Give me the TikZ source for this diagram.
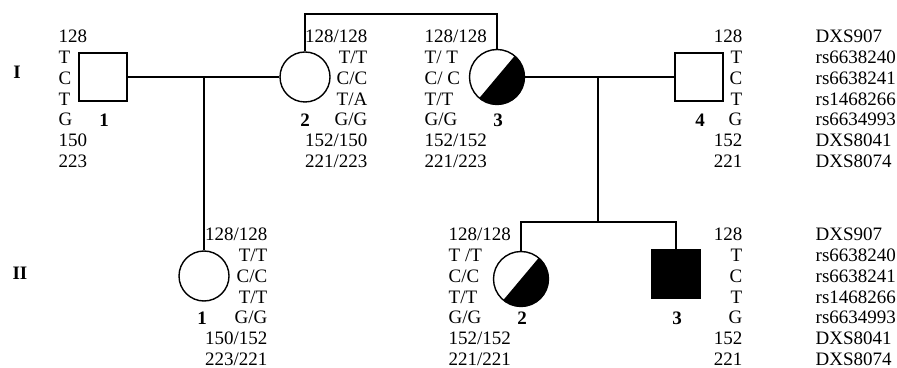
\documentclass[tikz,border=0pt]{standalone}
\usepackage{fontspec}
\setmainfont{Liberation Serif}
\tikzset{
    male/.style={
        rectangle,
        draw,
        line width=0.7pt,
        minimum size=24pt,
        inner sep=0
    },
    female/.style={
        circle,
        draw,
        line width=0.7pt,
        minimum size=25pt,
        inner sep=0
    },
    carrier/.style={
        female,
        minimum size=27.5pt,
        path picture={
            \fill (path picture bounding box.center) ++(50:20pt)
                -- ++(230:40pt) -- ++(-40:20pt) -- ++(50:40pt) -- cycle;
        }
    },
    affected/.style={
        male,
        fill=black
    },
    gtext/.style={
        inner sep=0,
        font=\fontsize{9.5}{11}\selectfont
    },
    idlabel/.style={
        inner sep=0,
        font=\bfseries\fontsize{9.5}{11}\selectfont
    }
}

\begin{document}
\begin{tikzpicture}[x=0.5pt, y=-0.5pt, line width=0.7pt]
    \useasboundingbox (0,0) rectangle (897,368);

    % generation labels
    \node[idlabel, anchor=base] (genI) at (17,79) {I};
    \node[idlabel, anchor=base] (genII) at (20,279) {II};

    % generation I
    \node[male] (i1) at (103,77) {};
    \node[female] (i2) at (305,77) {};
    \node[carrier] (i3) at (497,77) {};
    \node[male] (i4) at (699,77) {};

    \node[idlabel, anchor=base] (l-i1) at (104,127) {1};
    \node[idlabel, anchor=base] (l-i2) at (305,127) {2};
    \node[idlabel, anchor=base] (l-i3) at (498,127) {3};
    \node[idlabel, anchor=base] (l-i4) at (700,127) {4};

    % generation II
    \node[female] (ii1) at (204,276) {};
    \node[carrier] (ii2) at (521,279) {};
    \node[affected] (ii3) at (676,274) {};

    \node[idlabel, anchor=base] (l-ii1) at (202,324) {1};
    \node[idlabel, anchor=base] (l-ii2) at (522,324) {2};
    \node[idlabel, anchor=base] (l-ii3) at (677,324) {3};

    % haplotypes
    \foreach \t [count=\k from 0] in {128,T,C,T,G,150,223}
        \node[gtext, anchor=base west] (h-i1-\k) at (58,43+20.7*\k) {\t};
    \foreach \t [count=\k from 0] in {128/128,T/T,C/C,T/A,G/G,152/150,221/223}
        \node[gtext, anchor=base east] (h-i2-\k) at (368,43+20.7*\k) {\t};
    \foreach \t [count=\k from 0] in {128/128,T/ T,C/ C,T/T,G/G,152/152,221/223}
        \node[gtext, anchor=base west] (h-i3-\k) at (424,43+20.7*\k) {\t};
    \foreach \t [count=\k from 0] in {128,T,C,T,G,152,221}
        \node[gtext, anchor=base east] (h-i4-\k) at (743,43+20.7*\k) {\t};
    \foreach \t [count=\k from 0] in {128/128,T/T,C/C,T/T,G/G,150/152,223/221}
        \node[gtext, anchor=base east] (h-ii1-\k) at (268,241+20.7*\k) {\t};
    \foreach \t [count=\k from 0] in {128/128,T /T,C/C,T/T,G/G,152/152,221/221}
        \node[gtext, anchor=base west] (h-ii2-\k) at (448,241+20.7*\k) {\t};
    \foreach \t [count=\k from 0] in {128,T,C,T,G,152,221}
        \node[gtext, anchor=base east] (h-ii3-\k) at (743,241+20.7*\k) {\t};

    % marker names
    \foreach \m [count=\k from 0] in {DXS907,rs6638240,rs6638241,rs1468266,rs6634993,DXS8041,DXS8074} {
        \node[gtext, anchor=base west] (mk-i-\k) at (815,43+20.7*\k) {\m};
        \node[gtext, anchor=base west] (mk-ii-\k) at (815,241+20.7*\k) {\m};
    }

    % lines of descent
    \coordinate (m12) at (204,77);
    \coordinate (s23) at (400,14);
    \coordinate (m34) at (598,77);
    \coordinate (s2) at (598,222);

    \draw (i1) -- (i2);
    \draw (m12) -- (ii1.north);
    \draw (i2.north) |- (s23) -| (i3.north);
    \draw (i3) -- (i4);
    \draw (m34) -- (s2);
    \draw (ii2.north) |- (s2) -| (ii3.north);
\end{tikzpicture}
\end{document}
